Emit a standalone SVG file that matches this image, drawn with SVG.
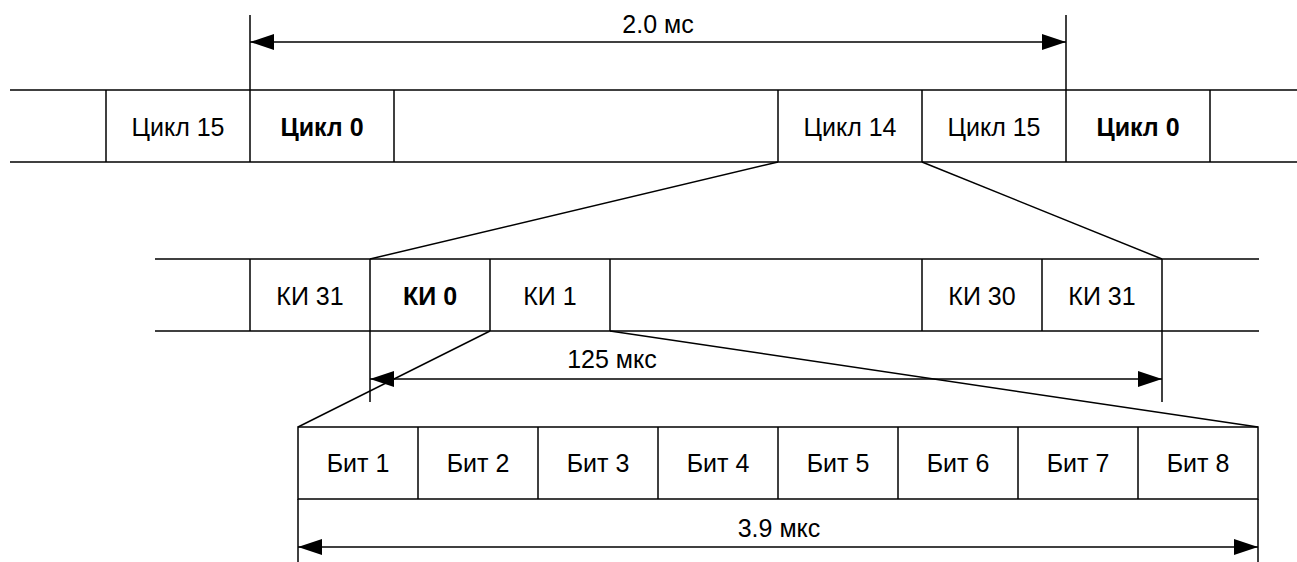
<svg xmlns="http://www.w3.org/2000/svg" width="1297" height="562" viewBox="0 0 1297 562">
<defs>
<style>
.ln{stroke:#000;stroke-width:1.5;fill:none}
.t{font-family:"Liberation Sans",Arial,sans-serif;font-size:25px;fill:#000;text-anchor:middle}
.b{font-weight:bold}
</style>
<marker id="ah" viewBox="0 0 24 16" refX="24" refY="8" markerWidth="24" markerHeight="16" markerUnits="userSpaceOnUse" orient="auto-start-reverse">
<path d="M0,0 L24,8 L0,16 Z" fill="#000"/>
</marker>
</defs>
<rect width="1297" height="562" fill="#fff"/>
<g id="row1">
<line class="ln" x1="10" y1="90" x2="1297" y2="90"/>
<line class="ln" x1="10" y1="162" x2="1297" y2="162"/>
<line class="ln" x1="106" y1="90" x2="106" y2="162"/>
<line class="ln" x1="250" y1="15" x2="250" y2="162"/>
<line class="ln" x1="394" y1="90" x2="394" y2="162"/>
<line class="ln" x1="778" y1="90" x2="778" y2="162"/>
<line class="ln" x1="922" y1="90" x2="922" y2="162"/>
<line class="ln" x1="1066" y1="15" x2="1066" y2="162"/>
<line class="ln" x1="1210" y1="90" x2="1210" y2="162"/>
</g>
<g id="c15a"><text class="t" x="178" y="136">Цикл 15</text></g>
<g id="c0a"><text class="t b" x="322" y="136">Цикл 0</text></g>
<g id="c14"><text class="t" x="850" y="136">Цикл 14</text></g>
<g id="c15b"><text class="t" x="994" y="136">Цикл 15</text></g>
<g id="c0b"><text class="t b" x="1138" y="136">Цикл 0</text></g>
<g id="row2">
<line class="ln" x1="155" y1="259" x2="1259" y2="259"/>
<line class="ln" x1="155" y1="331" x2="1259" y2="331"/>
<line class="ln" x1="250" y1="259" x2="250" y2="331"/>
<line class="ln" x1="370" y1="259" x2="370" y2="402"/>
<line class="ln" x1="490" y1="259" x2="490" y2="331"/>
<line class="ln" x1="610" y1="259" x2="610" y2="331"/>
<line class="ln" x1="922" y1="259" x2="922" y2="331"/>
<line class="ln" x1="1042" y1="259" x2="1042" y2="331"/>
<line class="ln" x1="1162" y1="259" x2="1162" y2="402"/>
</g>
<g id="ki31a"><text class="t" x="310" y="305">КИ 31</text></g>
<g id="ki0"><text class="t b" x="430" y="305">КИ 0</text></g>
<g id="ki1"><text class="t" x="550" y="305">КИ 1</text></g>
<g id="ki30"><text class="t" x="982" y="305">КИ 30</text></g>
<g id="ki31b"><text class="t" x="1102" y="305">КИ 31</text></g>
<g id="row3">
<rect class="ln" x="298" y="427" width="960" height="72"/>
<line class="ln" x1="418" y1="427" x2="418" y2="499"/>
<line class="ln" x1="538" y1="427" x2="538" y2="499"/>
<line class="ln" x1="658" y1="427" x2="658" y2="499"/>
<line class="ln" x1="778" y1="427" x2="778" y2="499"/>
<line class="ln" x1="898" y1="427" x2="898" y2="499"/>
<line class="ln" x1="1018" y1="427" x2="1018" y2="499"/>
<line class="ln" x1="1138" y1="427" x2="1138" y2="499"/>
<line class="ln" x1="298" y1="499" x2="298" y2="562"/>
<line class="ln" x1="1258" y1="499" x2="1258" y2="562"/>
</g>
<g id="bit1"><text class="t" x="358" y="472">Бит 1</text></g>
<g id="bit2"><text class="t" x="478" y="472">Бит 2</text></g>
<g id="bit3"><text class="t" x="598" y="472">Бит 3</text></g>
<g id="bit4"><text class="t" x="718" y="472">Бит 4</text></g>
<g id="bit5"><text class="t" x="838" y="472">Бит 5</text></g>
<g id="bit6"><text class="t" x="958" y="472">Бит 6</text></g>
<g id="bit7"><text class="t" x="1078" y="472">Бит 7</text></g>
<g id="bit8"><text class="t" x="1198" y="472">Бит 8</text></g>
<g id="connectors">
<line class="ln" x1="778" y1="162" x2="370" y2="259"/>
<line class="ln" x1="922" y1="162" x2="1162" y2="259"/>
<line class="ln" x1="490" y1="331" x2="298" y2="427"/>
<line class="ln" x1="610" y1="331" x2="1258" y2="427"/>
<line class="ln" x1="250" y1="42" x2="1066" y2="42" marker-start="url(#ah)" marker-end="url(#ah)"/>
<line class="ln" x1="370" y1="379" x2="1162" y2="379" marker-start="url(#ah)" marker-end="url(#ah)"/>
<line class="ln" x1="298" y1="547" x2="1258" y2="547" marker-start="url(#ah)" marker-end="url(#ah)"/>
</g>
<g id="labels">
<text class="t" x="658" y="33">2.0 мс</text>
<text class="t" x="612" y="368">125 мкс</text>
<text class="t" x="779" y="537">3.9 мкс</text>
</g>
</svg>
